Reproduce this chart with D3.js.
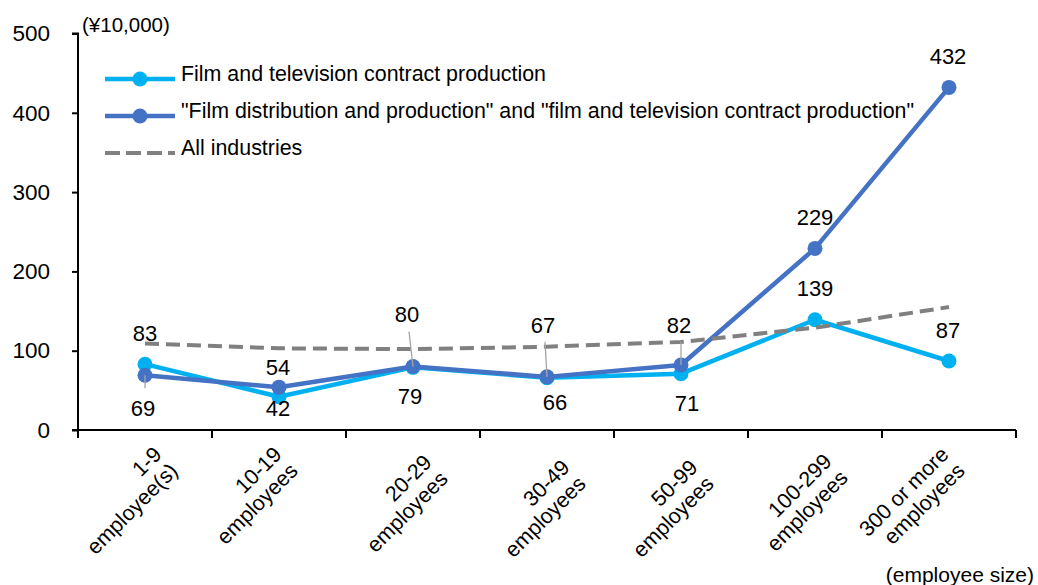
<!DOCTYPE html>
<html>
<head>
<meta charset="utf-8">
<script src="https://cdn.jsdelivr.net/npm/d3@7"></script>
<style>
  html, body { margin: 0; padding: 0; background: #fff; }
  svg { display: block; }
  text { font-family: "Liberation Sans", Arial, sans-serif; fill: #000; }
</style>
</head>
<body>
<svg id="chart" width="1038" height="585"></svg>
<script>
// Employee-size groups (two-line axis labels)
const sizeLine1 = ["1-9", "10-19", "20-29", "30-49", "50-99", "100-299", "300 or more"];
const sizeLine2 = ["employee(s)", "employees", "employees", "employees", "employees", "employees", "employees"];

// Values in units of ¥10,000
const contractProduction = [83, 42, 79, 66, 71, 139, 87];
const distributionAndContract = [69, 54, 80, 67, 82, 229, 432];
const allIndustries = [109, 103, 102, 105, 111, 129, 155];

const yTicks = [0, 100, 200, 300, 400, 500];

const seriesNames = [
  "Film and television contract production",
  "\"Film distribution and production\" and \"film and television contract production\"",
  "All industries"
];

// Label placement relative to each point: [dx, dy, leader]
const contractLabelPos = [[0, -31, false], [-1, 11, false], [-3, 29, false], [8, 24, false], [6, 29, false], [0, -32, false], [-1, -31, false]];
const combinedLabelPos = [[-2, 33, true], [-1, -20, false], [-6, -52, true], [-4, -52, true], [-2, -40, true], [0, -31, false], [-1, -31, false]];

// Corner of each rotated category label: [x offset from band centre, y]
const categoryLabelAnchor = [[7, 445], [-7, 445], [9, 453], [13, 458], [7, 458], [7, 452], [-10, 445]];

const svg = d3.select("#chart");
const plotLeft = 78, plotRight = 1016, plotTop = 33.5, plotBottom = 430;
const fontSize = 21.5;

const x = d3.scaleBand().domain(sizeLine1).range([plotLeft, plotRight]).paddingInner(0).paddingOuter(0);
const y = d3.scaleLinear().domain([0, 500]).range([plotBottom, plotTop]);
const cx = i => x(sizeLine1[i]) + x.bandwidth() / 2;

const colLight = "#00B0F0", colDark = "#4472C4", colGray = "#808080";

// Y axis
const yAxis = svg.append("g").attr("transform", `translate(${plotLeft},0)`)
  .call(d3.axisLeft(y).tickValues(yTicks).tickSize(6).tickPadding(22).tickFormat(d3.format("d")));
yAxis.select(".domain").attr("stroke", "#000").attr("stroke-width", 2).attr("d", `M-6,${plotTop}H0V${plotBottom}`);
yAxis.selectAll(".tick line").attr("stroke", "#000").attr("stroke-width", 2);
yAxis.selectAll(".tick text").style("font-size", "22.5px").attr("fill", "#000")
  .style("font-family", "'Liberation Sans', Arial, sans-serif");

// X axis with ticks at band boundaries
const xAxis = svg.append("g").attr("transform", `translate(0,${plotBottom})`);
xAxis.append("line").attr("x1", plotLeft - 6).attr("x2", plotRight).attr("y1", 0).attr("y2", 0)
  .attr("stroke", "#000").attr("stroke-width", 2);
const bounds = sizeLine1.map(c => x(c)).concat([plotRight]);
xAxis.selectAll("line.tk").data(bounds).join("line").attr("class", "tk")
  .attr("x1", d => d).attr("x2", d => d).attr("y1", 0).attr("y2", 8)
  .attr("stroke", "#000").attr("stroke-width", 2);

// Rotated category labels, right-aligned two-line blocks
sizeLine1.forEach((c, i) => {
  const [ax, ay] = categoryLabelAnchor[i];
  const g = svg.append("g").attr("transform", `translate(${cx(i) + ax},${ay}) rotate(-45)`);
  const t = g.append("text").attr("text-anchor", "end").style("font-size", fontSize + "px");
  t.append("tspan").attr("x", 0).attr("y", 15.4).text(c);
  t.append("tspan").attr("x", 0).attr("y", 38.4).text(sizeLine2[i]);
});

// Unit labels
svg.append("text").attr("x", 82).attr("y", 32).style("font-size", "20.5px").text("(¥10,000)");
svg.append("text").attr("x", 1034).attr("y", 582).attr("text-anchor", "end").style("font-size", "21px").text("(employee size)");

const line = d3.line().x((d, i) => cx(i)).y(d => y(d));

// Series lines
svg.append("path").datum(contractProduction).attr("d", line)
  .attr("fill", "none").attr("stroke", colLight).attr("stroke-width", 4.5).attr("stroke-linejoin", "round");
svg.append("g").selectAll("circle").data(contractProduction).join("circle")
  .attr("cx", (d, i) => cx(i)).attr("cy", d => y(d)).attr("r", 7.5).attr("fill", colLight);

svg.append("path").datum(distributionAndContract).attr("d", line)
  .attr("fill", "none").attr("stroke", colDark).attr("stroke-width", 4.5).attr("stroke-linejoin", "round");
svg.append("g").selectAll("circle").data(distributionAndContract).join("circle")
  .attr("cx", (d, i) => cx(i)).attr("cy", d => y(d)).attr("r", 7.5).attr("fill", colDark);

svg.append("path").datum(allIndustries).attr("d", line)
  .attr("fill", "none").attr("stroke", colGray).attr("stroke-width", 4).attr("stroke-dasharray", "14,7");

// Data labels with optional leader lines
function drawLabels(values, pos) {
  values.forEach((v, i) => {
    const px = cx(i), py = y(v);
    const [dx, dy, leader] = pos[i];
    const lx = px + dx, ly = py + dy;
    if (leader) {
      const endY = dy < 0 ? ly + 17 : ly - 20;
      svg.append("line").attr("x1", px).attr("y1", py).attr("x2", lx + (dx < 0 ? 2 : 0)).attr("y2", endY)
        .attr("stroke", "#A6A6A6").attr("stroke-width", 1.3);
    }
    svg.append("text").attr("x", lx).attr("y", ly).attr("dy", "0.36em")
      .attr("text-anchor", "middle").style("font-size", "22px").text(v);
  });
}
drawLabels(contractProduction, contractLabelPos);
drawLabels(distributionAndContract, combinedLabelPos);

// Legend
const legend = svg.append("g");
const legendRows = [
  { name: seriesNames[0], color: colLight, y: 79, dash: null, marker: true },
  { name: seriesNames[1], color: colDark, y: 116, dash: null, marker: true },
  { name: seriesNames[2], color: colGray, y: 153, dash: "15,6", marker: false }
];
legendRows.forEach(r => {
  legend.append("line").attr("x1", 105).attr("x2", 175).attr("y1", r.y).attr("y2", r.y)
    .attr("stroke", r.color).attr("stroke-width", r.marker ? 4.5 : 4)
    .attr("stroke-dasharray", r.dash);
  if (r.marker) legend.append("circle").attr("cx", 140).attr("cy", r.y).attr("r", 7.5).attr("fill", r.color);
  legend.append("text").attr("x", 181).attr("y", r.y - 6).attr("dy", "0.36em")
    .style("font-size", "21.4px").text(r.name);
});
</script>
</body>
</html>
